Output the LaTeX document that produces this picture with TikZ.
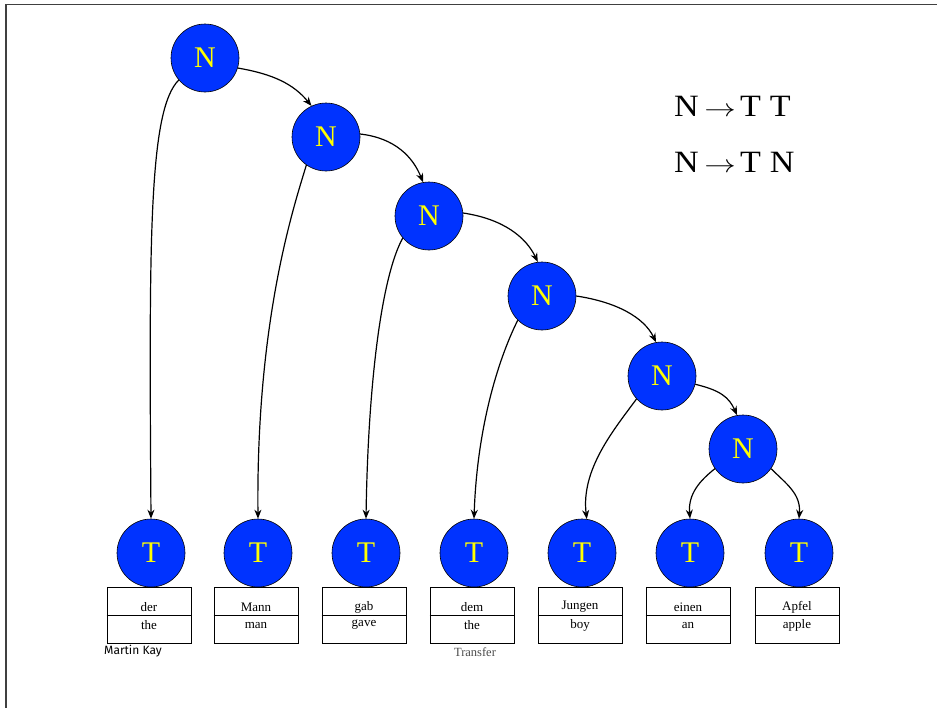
\documentclass[tikz,border=0pt]{standalone}
\usepackage{fontspec}
\usepackage{graphicx}
\setmainfont{Liberation Serif}
\newfontfamily\sigfont{Fira Sans}
\usetikzlibrary{arrows.meta}
\definecolor{nodeblue}{RGB}{0,51,255}
\definecolor{labelyellow}{RGB}{255,255,0}
\tikzset{
  circ/.style={circle, draw=black, line width=0.6pt, fill=nodeblue, minimum size=68pt, inner sep=0pt,
    text=labelyellow, font=\fontsize{30}{30}\selectfont},
  wordbox/.style={draw=black, line width=0.7pt, minimum width=84pt, minimum height=56pt, inner sep=0pt},
  wordtxt/.style={font=\fontsize{13}{13}\selectfont, inner sep=0pt},
  conn/.style={line width=1.2pt, -{Stealth[length=9pt,width=7pt]}},
  rule/.style={font=\fontsize{31}{31}\selectfont, anchor=west, inner sep=0pt}
}
\newcommand{\ruletext}[2]{\scalebox{1.1}[1]{N\hspace{5pt}\scalebox{1.15}[1]{$\rightarrow$}\hspace{4pt}#1\hspace{8pt}#2}}
\begin{document}
\begin{tikzpicture}[x=1pt,y=-1pt]
\useasboundingbox (0,0) rectangle (937,707);
\draw[line width=1.2pt, draw=black!75] (6,720) -- (6,4.5) -- (950,4.5);

% N nodes
\node[circ] (N1) at (205,58) {N};
\node[circ] (N2) at (326,137) {N};
\node[circ] (N3) at (429,216) {N};
\node[circ] (N4) at (542,296) {N};
\node[circ] (N5) at (662,376) {N};
\node[circ] (N6) at (743,449) {N};

% T nodes and boxes
\foreach \i/\x/\de/\en in {1/151/der/the, 2/258/Mann/man, 3/366/gab/gave, 4/474/dem/the, 5/582/Jungen/boy, 6/690/einen/an, 7/799/Apfel/apple}{
  \node[circ] (T\i) at (\x,553) {T};
  \node[wordbox] (B\i) at (\x-2,615) {};
  \draw[line width=0.7pt] (B\i.west) -- (B\i.east);
  \node[wordtxt] (D\i) at (\x-2,607) {\de};
  \node[wordtxt] (E\i) at (\x-2,625) {\en};
}

% N -> N arrows
\draw[conn] (N1.-17) .. controls +(35,6) and +(-18,-22) .. (N2.115);
\draw[conn] (N2.5) .. controls +(35,4) and +(-10,-25) .. (N3.100);
\draw[conn] (N3.5) .. controls +(40,6) and +(-12,-25) .. (N4.97);
\draw[conn] (N4.0) .. controls +(40,6) and +(-12,-25) .. (N5.100);
\draw[conn] (N5.-14) .. controls +(25,6) and +(-8,-18) .. (N6.100);

% N -> T arrows
\draw[conn] (N1.220) .. controls +(-30,30) and +(-2,-280) .. (T1.north);
\draw[conn] (N2.235) .. controls +(-12,40) and +(-2,-200) .. (T2.north);
\draw[conn] (N3.220) .. controls +(-22,40) and +(2,-130) .. (T3.north);
\draw[conn] (N4.225) .. controls +(-20,40) and +(3,-90) .. (T4.north);
\draw[conn] (N5.222) .. controls +(-22,30) and +(-6,-50) .. (T5.82);
\draw[conn] (N6.215) .. controls +(-15,12) and +(-2,-25) .. (T6.north);
\draw[conn] (N6.-35) .. controls +(15,15) and +(2,-25) .. (T7.north);

% rules
\node[rule] (R1) at (674,106) {\ruletext{T}{T}};
\node[rule] (R2) at (674,162) {\ruletext{T}{N}};

% footer labels
\node[font=\sigfont\fontsize{12}{12}\selectfont, inner sep=0pt] (MK) at (133,651) {Martin Kay};
\node[font=\fontsize{12.5}{12.5}\selectfont, text=black!70, inner sep=0pt] (TR) at (475,652) {Transfer};
\end{tikzpicture}
\end{document}
